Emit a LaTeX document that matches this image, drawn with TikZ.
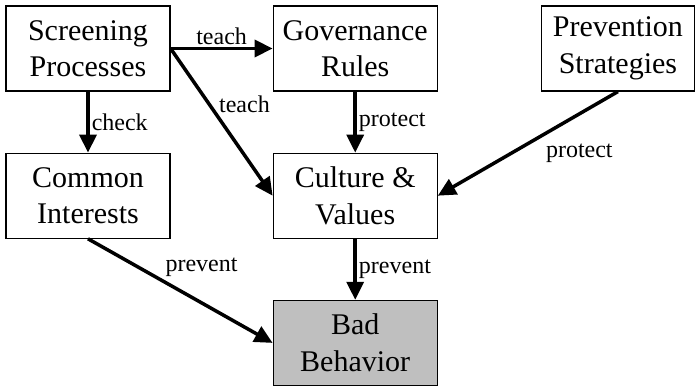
\documentclass[tikz,border=0pt]{standalone}
\usepackage{fontspec}
\setmainfont{Liberation Serif}
\usetikzlibrary{arrows.meta, positioning}
\tikzset{
    block/.style={
        rectangle,
        draw=black,
        line width=1.2pt,
        minimum width=164pt,
        minimum height=85pt,
        fill=white,
        align=center,
        font=\fontsize{30}{36.5}\selectfont
    },
    outcome/.style={
        block,
        fill=black!25
    },
    link/.style={
        draw=black,
        line width=3.5pt,
        -{Triangle[length=18pt,width=17pt]}
    },
    tag/.style={
        font=\fontsize{24}{28}\selectfont,
        inner sep=2pt
    }
}

\begin{document}
\begin{tikzpicture}[x=1pt, y=-1pt, node distance=61pt and 102pt]
\useasboundingbox (0,0) rectangle (695,385);

% Top row
\node[block] (screen) at (88,48.5) {Screening\\Processes};
\node[block, right=of screen] (gov) {Governance\\Rules};
\node[block, right=103pt of gov, minimum width=153pt] (prev) {Prevention\\Strategies};

% Middle row
\node[block, below=of screen] (common) {Common\\Interests};
\node[block, below=of gov] (culture) {Culture \&\\Values};

% Outcome
\node[outcome, below=of culture] (bad) {Bad\\Behavior};

% Links
\draw[link] (screen.east) -- node[tag, above] {teach} (gov.west);
\draw[link] (screen.east) -- node[tag, pos=0.38, right=6pt] {teach} (culture.west);
\draw[link] (screen) -- node[tag, right] {check} (common);
\draw[link] (gov) -- node[tag, right] {protect} (culture);
\draw[link] (prev.south) -- node[tag, pos=0.42, below right, yshift=-5pt] {protect} (culture.east);
\draw[link] (common.south) -- node[tag, pos=0.4, above right] {prevent} (bad.west);
\draw[link] (culture) -- node[tag, right] {prevent} (bad);

\end{tikzpicture}
\end{document}
